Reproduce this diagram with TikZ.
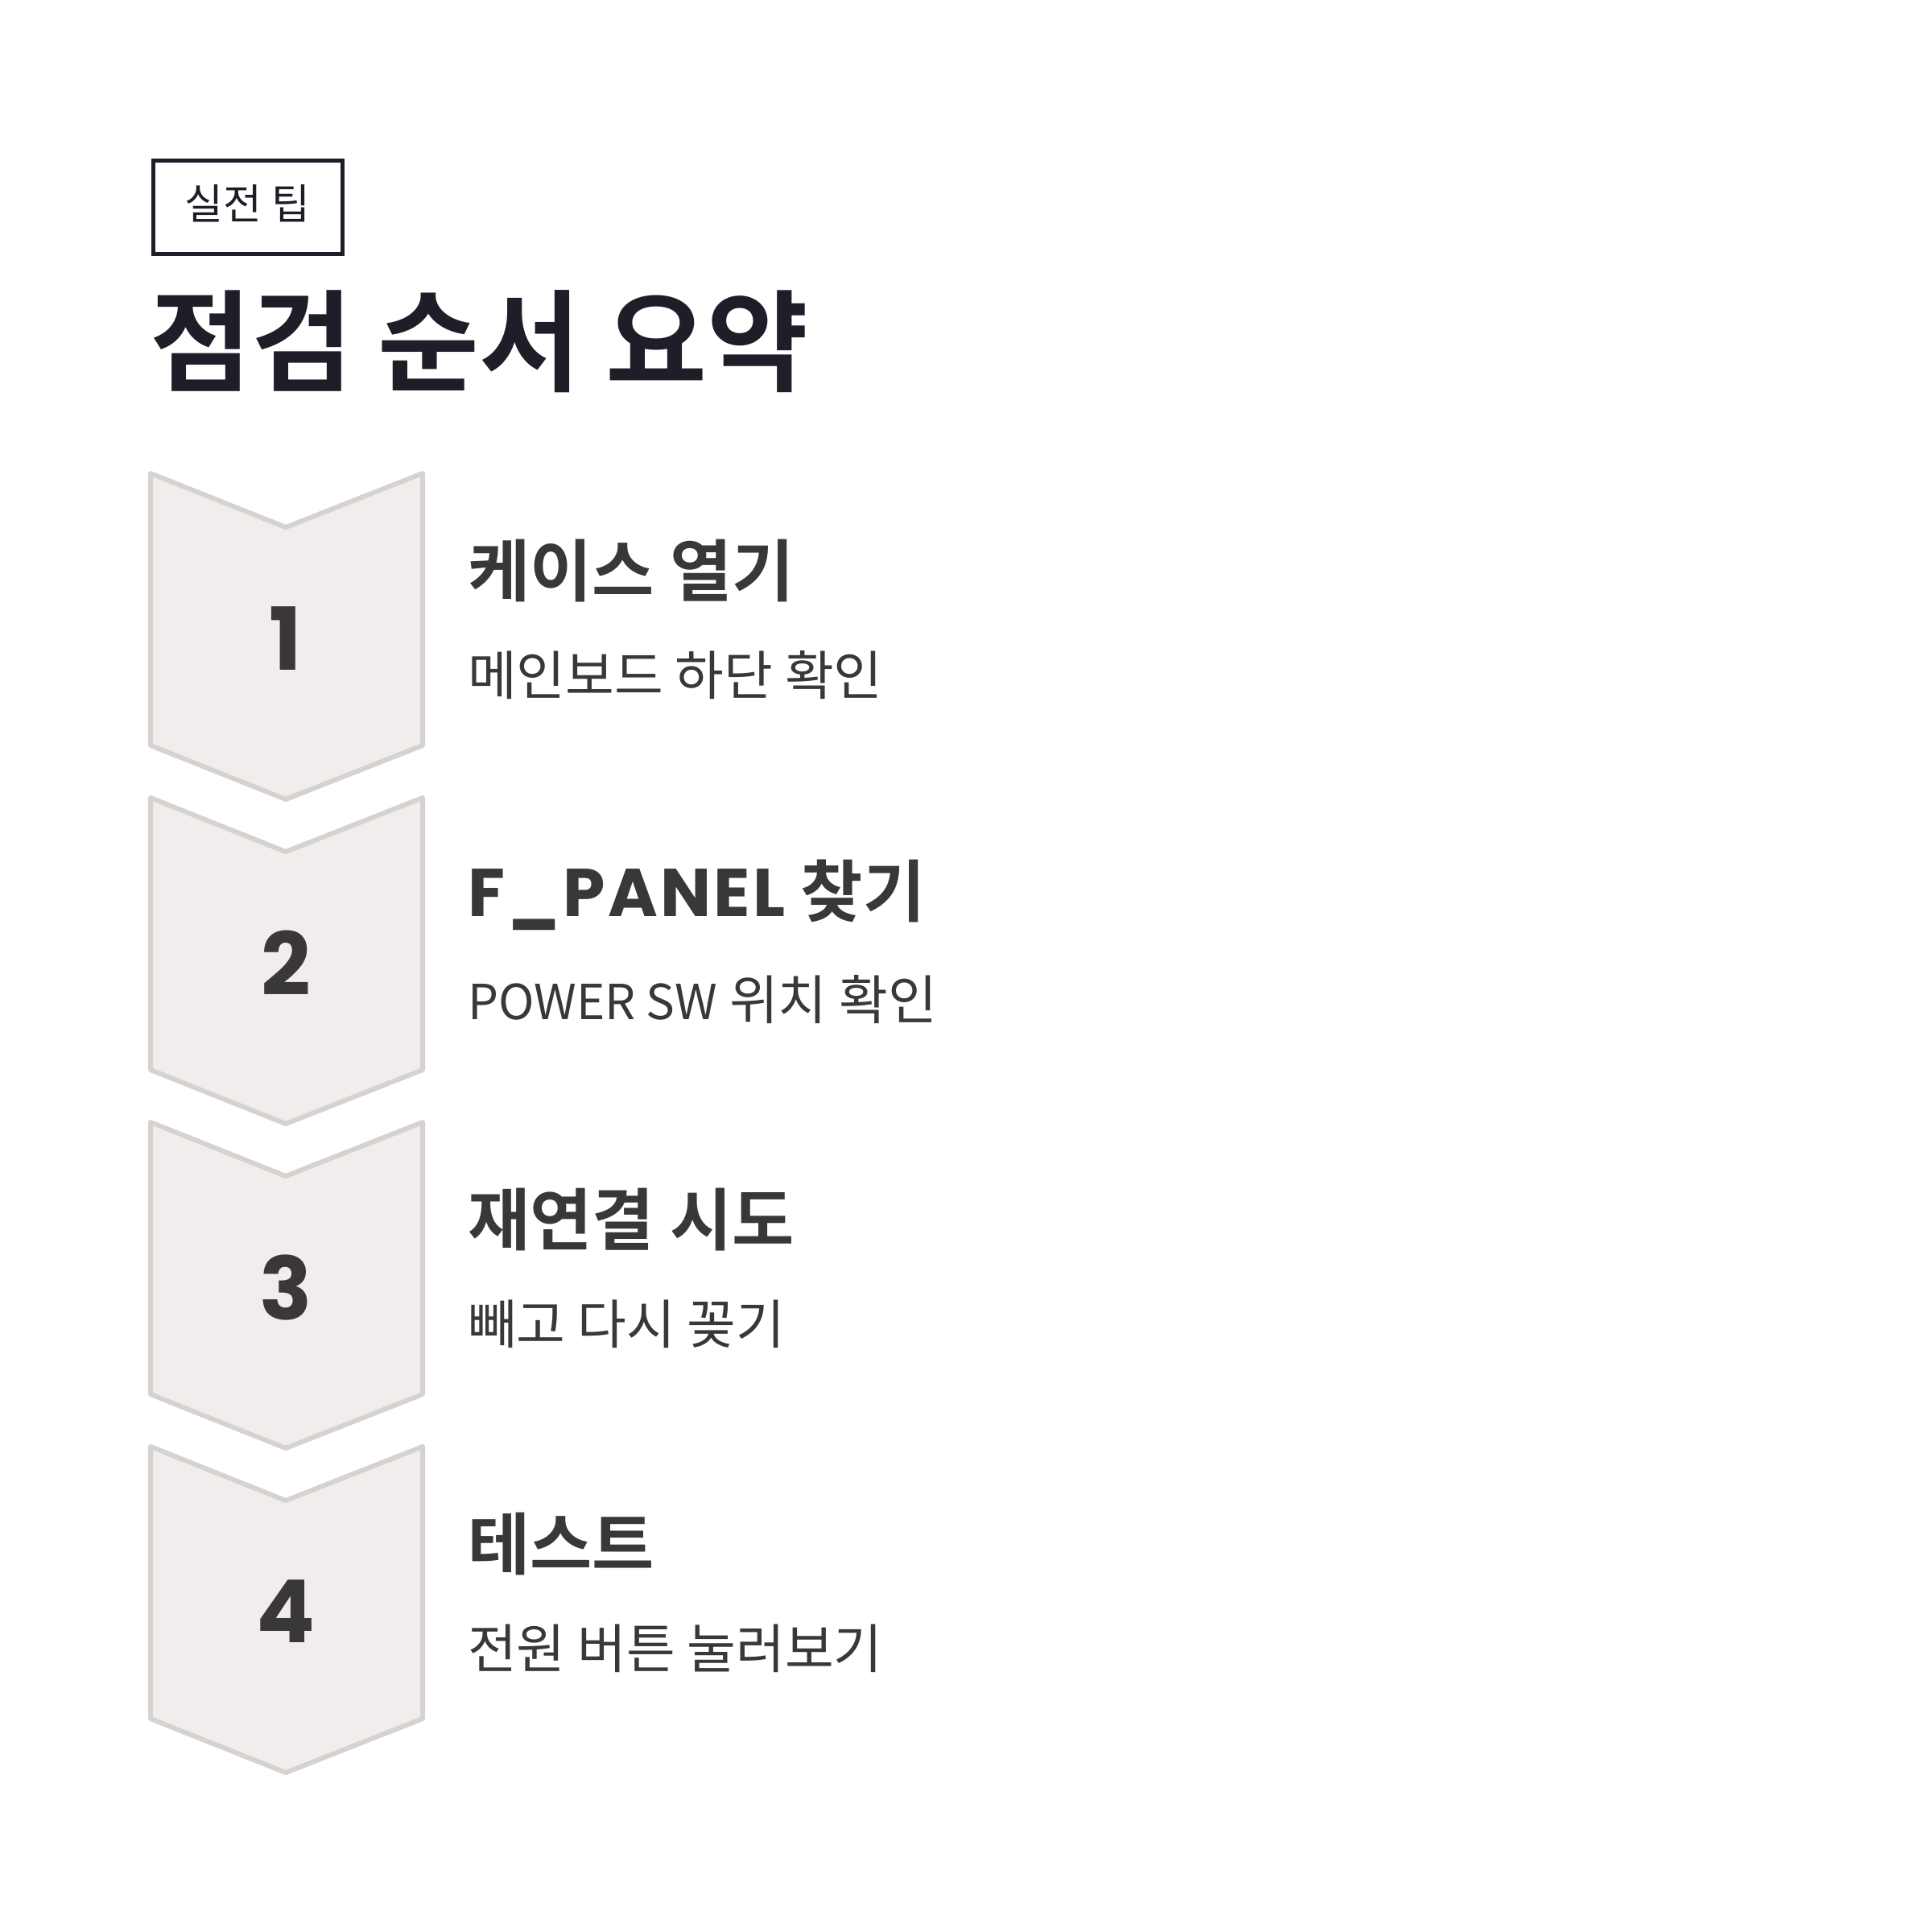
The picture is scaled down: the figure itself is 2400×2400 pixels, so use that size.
\documentclass[tikz,border=0pt]{standalone}
\usepackage{fontspec}
\newfontfamily\kr{Noto Sans CJK KR}
\newfontfamily\krb{Noto Sans CJK KR Bold}
\newfontfamily\geo{Poppins}
\newfontfamily\geowide[LetterSpace=4]{Poppins}
\definecolor{navy}{HTML}{1E1E28}
\definecolor{ink}{HTML}{3A3836}
\definecolor{chfill}{HTML}{F0EDEC}
\definecolor{chline}{HTML}{D6D2D0}
\begin{document}
\begin{tikzpicture}[x=1pt,y=-1pt,
  chev/.style={fill=chfill,draw=chline,line width=6pt,line join=round},
  steptitle/.style={anchor=west,inner sep=0pt,text=ink,font=\krb\fontsize{84}{96}\selectfont},
  stepsub/.style={anchor=west,inner sep=0pt,text=ink,font=\kr\fontsize{66}{76}\selectfont},
  stepnum/.style={inner sep=0pt,text=ink,font=\geo\bfseries\fontsize{108}{120}\selectfont}]
\useasboundingbox (0,0) rectangle (2400,2400);
\fill[white] (0,0) rectangle (2400,2400);
% tag
\draw[navy,line width=5pt] (190,200) rectangle (425,315);
\node[inner sep=0pt,text=navy,font=\kr\fontsize{52}{62}\selectfont] (tag) at (307.5,253) {실전 팁};
\node[anchor=west,inner sep=0pt,text=navy,font=\krb\fontsize{137}{150}\selectfont] (title) at (186,424) {점검 순서 요약};
% chevrons
\foreach \i/\t/\s/\n in {0/{케이스 열기}/{메인보드 하단 확인}/1,
                         1/{{\geowide\bfseries\fontsize{84}{96}\selectfont F\_PANEL} 찾기}/{{\fontsize{60}{72}\selectfont POWER SW} 위치 확인}/2,
                         2/{재연결 시도}/{빼고 다시 꽂기}/3,
                         3/{테스트}/{전원 버튼 눌러보기}/4}{
  \pgfmathsetmacro{\ty}{588+403*\i}
  \draw[chev] (187,\ty) -- (355,\ty+67) -- (525,\ty) -- (525,\ty+338) -- (355,\ty+405) -- (187,\ty+338) -- cycle;
  \node[stepnum] (num\n) at (355,\ty+205) {\n};
  \node[steptitle] (tt\n) at (581,\ty+121) {\t};
  \node[stepsub] (ts\n) at (581,\ty+251) {\s};
}
\end{tikzpicture}
\end{document}
